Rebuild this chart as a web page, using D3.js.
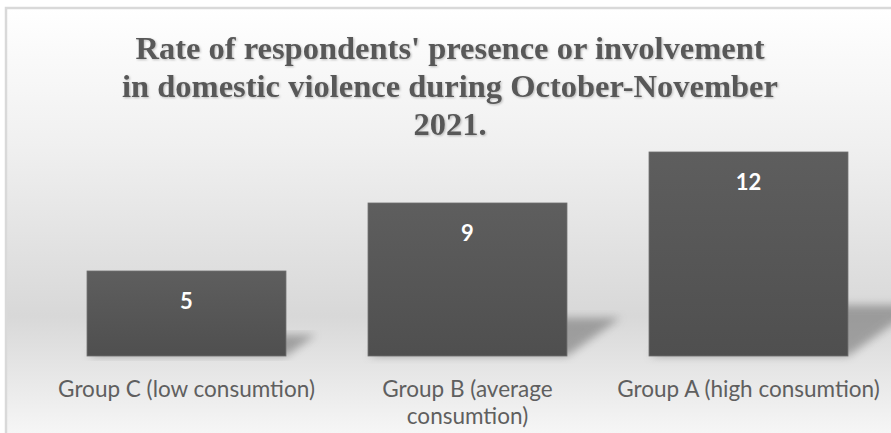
<!DOCTYPE html>
<html>
<head>
<meta charset="utf-8">
<script src="https://cdn.jsdelivr.net/npm/d3@7"></script>
<style>
  html, body { margin: 0; padding: 0; background: #ffffff; overflow: hidden; }
  svg { display: block; }
</style>
</head>
<body>
<svg id="chart" width="891" height="433"></svg>
<script>
// ---- data ----
const categories = ["Group C (low consumtion)", "Group B (average consumtion)", "Group A (high consumtion)"];
const categoryLines = [["Group C (low consumtion)"], ["Group B (average", "consumtion)"], ["Group A (high consumtion)"]];
const values = [5, 9, 12];
const titleLines = ["Rate of respondents' presence or involvement", "in domestic violence during October-November", "2021."];
const yDomain = [0, 14];

// ---- layout ----
const W = 891, H = 433;
const svg = d3.select("#chart");
const defs = svg.append("defs");

// background gradient
const bg = defs.append("linearGradient").attr("id", "bgGrad")
  .attr("x1", 0).attr("y1", 0).attr("x2", 0).attr("y2", 1);
bg.append("stop").attr("offset", "0%").attr("stop-color", "#ffffff");
bg.append("stop").attr("offset", "30%").attr("stop-color", "#f0f0f0");
bg.append("stop").attr("offset", "68%").attr("stop-color", "#d8d8d8");
bg.append("stop").attr("offset", "82%").attr("stop-color", "#e8e8e8");
bg.append("stop").attr("offset", "100%").attr("stop-color", "#fdfdfd");

// bar gradient
const bgBar = defs.append("linearGradient").attr("id", "barGrad")
  .attr("x1", 0).attr("y1", 0).attr("x2", 0).attr("y2", 1);
bgBar.append("stop").attr("offset", "0%").attr("stop-color", "#5e5e5e");
bgBar.append("stop").attr("offset", "100%").attr("stop-color", "#4f4f4f");

const blur = defs.append("filter").attr("id", "blur")
  .attr("x", "-20%").attr("y", "-20%").attr("width", "140%").attr("height", "140%");
blur.append("feGaussianBlur").attr("stdDeviation", 4);

const tblur = defs.append("filter").attr("id", "tshadow")
  .attr("x", "-5%").attr("y", "-20%").attr("width", "110%").attr("height", "140%");
tblur.append("feDropShadow").attr("dx", 1).attr("dy", 1).attr("stdDeviation", 0.8)
  .attr("flood-color", "#000").attr("flood-opacity", 0.25);

// chart area
svg.append("rect")
  .attr("x", 6).attr("y", 8).attr("width", W + 20).attr("height", H + 20)
  .attr("fill", "url(#bgGrad)")
  .attr("stroke", "#d9d9d9").attr("stroke-width", 2.5);

// scales
const x = d3.scaleBand().domain(categories).range([46, 889])
  .paddingInner(0.292).paddingOuter(0.146);
const y = d3.scaleLinear().domain(yDomain).range([356, 118]);

const data = categories.map((c, i) => ({ c, v: values[i], lines: categoryLines[i] }));

// shadows (perspective diagonal upper right)
svg.append("g").selectAll("path").data(data).join("path")
  .attr("d", d => {
    const x0 = x(d.c), x1 = x0 + x.bandwidth();
    const b = y(0), h = y(0) - y(d.v);
    const dx = h * 0.35, dy = h * 0.25;
    return `M${x0},${b}L${x1},${b}L${x1 + dx},${b - dy}L${x0 + dx},${b - dy}Z`;
  })
  .attr("fill", "#6a6a6a").attr("opacity", 0.55)
  .attr("filter", "url(#blur)");

// bars
svg.append("g").selectAll("rect").data(data).join("rect")
  .attr("x", d => x(d.c))
  .attr("y", d => y(d.v))
  .attr("width", x.bandwidth())
  .attr("height", d => y(0) - y(d.v))
  .attr("fill", "url(#barGrad)")
  .attr("stroke", "#6e6e6e").attr("stroke-width", 0.8);

// value labels
svg.append("g").selectAll("text").data(data).join("text")
  .attr("x", d => x(d.c) + x.bandwidth() / 2)
  .attr("y", d => y(d.v) + 38)
  .attr("text-anchor", "middle")
  .attr("font-family", "Lato, 'Open Sans', sans-serif")
  .attr("font-weight", "bold")
  .attr("font-size", 22)
  .attr("fill", "#ffffff")
  .text(d => d.v);

// category labels
const catG = svg.append("g");
const catTexts = catG.selectAll("text").data(data).join("text")
  .attr("text-anchor", "middle")
  .attr("font-family", "Lato, 'Open Sans', sans-serif")
  .attr("font-size", 21)
  .attr("fill", "#5f5f5f");
catTexts.each(function(d) {
  const t = d3.select(this);
  d.lines.forEach((ln, j) => {
    t.append("tspan")
      .attr("x", x(d.c) + x.bandwidth() / 2)
      .attr("y", 397 + j * 27)
      .text(ln);
  });
});
// fit font size so first label width matches reference (~257px)
(function fit() {
  const node = catTexts.nodes()[0];
  const w = node.getComputedTextLength();
  if (w > 0) {
    const fs = 21 * 257 / w;
    catTexts.attr("font-size", fs.toFixed(2));
  }
})();

// title
const title = svg.append("text")
  .attr("text-anchor", "middle")
  .attr("font-family", "'Liberation Serif', 'Times New Roman', serif")
  .attr("font-weight", "bold")
  .attr("font-size", 32.5)
  .attr("fill", "#595959")
  .attr("filter", "url(#tshadow)");
titleLines.forEach((ln, j) => {
  title.append("tspan").attr("x", 450).attr("y", 59 + j * 38).text(ln);
});
</script>
</body>
</html>
